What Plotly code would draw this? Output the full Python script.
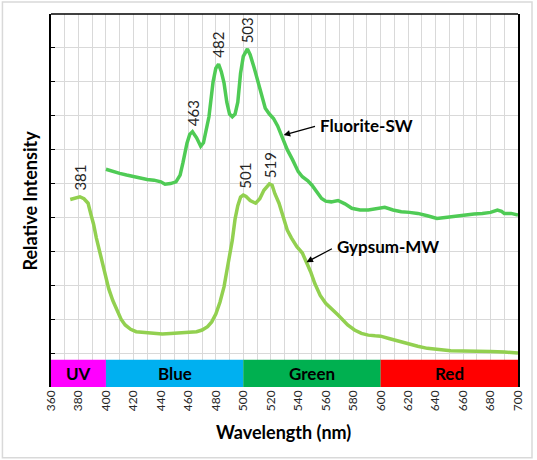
import plotly.graph_objects as go

# Emission spectra (relative units, 1 unit = 1 gridline)
fluorite_wl = [400, 405, 410, 415, 420, 425, 430, 435, 440, 443, 447, 451, 454, 456, 459, 461, 463,
               466, 469, 471, 475, 478, 480, 482, 484, 486, 488, 490, 492, 494, 496, 498, 500, 503,
               505, 508, 511, 514, 516, 519, 522, 525, 528, 532, 536, 540, 543, 547, 550, 553, 557,
               560, 564, 569, 574, 579, 585, 591, 597, 603, 609, 615, 621, 627, 634, 641, 647, 654,
               661, 668, 674, 680, 685, 688, 690, 695, 700]
fluorite_int = [5.42, 5.35, 5.30, 5.25, 5.20, 5.15, 5.12, 5.10, 5.05, 4.98, 5.00, 5.05, 5.25, 5.60,
                6.19, 6.45, 6.53, 6.35, 6.10, 6.20, 6.97, 8.00, 8.40, 8.52, 8.30, 7.96, 7.40, 7.05,
                6.97, 7.05, 7.40, 8.25, 8.75, 8.97, 8.80, 8.40, 7.96, 7.50, 7.22, 7.05, 6.92, 6.70,
                6.40, 6.00, 5.69, 5.35, 5.20, 5.08, 4.95, 4.80, 4.56, 4.48, 4.46, 4.50, 4.40, 4.27,
                4.22, 4.22, 4.25, 4.30, 4.22, 4.17, 4.15, 4.12, 4.05, 3.97, 4.00, 4.04, 4.06, 4.10,
                4.12, 4.15, 4.22, 4.18, 4.12, 4.12, 4.07]

gypsum_wl = [374, 378, 381, 384, 387, 389, 391, 393, 396, 399, 402, 405, 408, 411, 414, 418, 422,
             428, 434, 441, 447, 454, 461, 466, 470, 474, 477, 480, 483, 486, 489, 492, 494, 496,
             498, 500, 502, 505, 509, 512, 515, 519, 521, 523, 526, 529, 532, 535, 539, 543, 546,
             549, 552, 556, 560, 564, 569, 576, 581, 586, 591, 596, 600, 606, 612, 620, 627, 634,
             642, 651, 660, 670, 680, 690, 700]
gypsum_int = [4.53, 4.58, 4.61, 4.55, 4.42, 4.10, 3.80, 3.40, 2.90, 2.35, 1.90, 1.55, 1.25, 1.00,
              0.83, 0.70, 0.63, 0.60, 0.58, 0.56, 0.58, 0.60, 0.61, 0.63, 0.68, 0.78, 0.92, 1.15,
              1.50, 1.96, 2.65, 3.33, 3.95, 4.35, 4.60, 4.66, 4.62, 4.50, 4.42, 4.55, 4.80, 4.99,
              4.95, 4.70, 4.42, 4.00, 3.63, 3.40, 3.14, 2.95, 2.69, 2.40, 2.06, 1.70, 1.47, 1.30,
              1.12, 0.83, 0.68, 0.58, 0.53, 0.51, 0.50, 0.43, 0.36, 0.29, 0.20, 0.14, 0.10, 0.07,
              0.06, 0.06, 0.05, 0.03, 0.00]

# peak labels
fluorite_peaks = [463, 482, 503]
gypsum_peaks = [381, 501, 519]

# colour bands along the bottom
band_names = ['UV', 'Blue', 'Green', 'Red']
band_start = [360, 400, 500, 600]
band_end = [400, 500, 600, 700]
band_colors = ['#FF00FF', '#00B0F0', '#00B050', '#FF0000']

x_ticks = list(range(360, 701, 20))
y_grid = list(range(0, 11))

fluorite_color = '#4FCB55'
gypsum_color = '#92D050'
font_family = 'Lato, "Open Sans", sans-serif'

fig = go.Figure()
fig.add_trace(go.Scatter(x=fluorite_wl, y=fluorite_int, mode='lines',
                         line=dict(color=fluorite_color, width=3.5), name='Fluorite-SW'))
fig.add_trace(go.Scatter(x=gypsum_wl, y=gypsum_int, mode='lines',
                         line=dict(color=gypsum_color, width=3.5), name='Gypsum-MW'))

shapes = []
annotations = []
for name, x0, x1, col in zip(band_names, band_start, band_end, band_colors):
    shapes.append(dict(type='rect', xref='x', yref='y', x0=x0, x1=x1, y0=-1, y1=-0.2,
                       fillcolor=col, line=dict(width=0), layer='above'))
    annotations.append(dict(x=(x0 + x1) / 2, y=-0.6, xref='x', yref='y', text='<b>%s</b>' % name,
                            showarrow=False, font=dict(size=17, color='#000000')))

# top border of the plot area
shapes.append(dict(type='line', xref='paper', yref='paper', x0=0, x1=1, y0=1, y1=1,
                   line=dict(color='#000000', width=1.5)))
# light frame round the whole picture
shapes.append(dict(type='rect', xref='paper', yref='paper', x0=-0.104, x1=1.030, y0=-0.190, y1=1.032,
                   line=dict(color='#D9D9D9', width=1.5)))

def peak_value(wl, vals, p):
    return vals[min(range(len(wl)), key=lambda i: abs(wl[i] - p))]

for wl, vals, peaks in [(fluorite_wl, fluorite_int, fluorite_peaks), (gypsum_wl, gypsum_int, gypsum_peaks)]:
    for p in peaks:
        annotations.append(dict(x=p, y=peak_value(wl, vals, p), xref='x', yref='y', text=str(p),
                                textangle=-90, showarrow=False, yanchor='bottom', yshift=4,
                                font=dict(size=15, color='#262626')))

# series labels with arrows
annotations += [
    dict(x=529.4, y=6.43, ax=553.3, ay=6.70, xref='x', yref='y', axref='x', ayref='y', text='',
         showarrow=True, arrowhead=2, arrowsize=1, arrowwidth=1.3, arrowcolor='#000000'),
    dict(x=554.7, y=6.70, xref='x', yref='y', text='<b>Fluorite-SW</b>', showarrow=False,
         xanchor='left', font=dict(size=17, color='#000000')),
    dict(x=546.0, y=2.68, ax=565.6, ay=3.10, xref='x', yref='y', axref='x', ayref='y', text='',
         showarrow=True, arrowhead=2, arrowsize=1, arrowwidth=1.3, arrowcolor='#000000'),
    dict(x=567.0, y=3.13, xref='x', yref='y', text='<b>Gypsum-MW</b>', showarrow=False,
         xanchor='left', font=dict(size=17, color='#000000')),
    # axis titles
    dict(x=0.498, y=-0.12, xref='paper', yref='paper', text='<b>Wavelength (nm)</b>', showarrow=False,
         xanchor='center', yanchor='middle', font=dict(size=18, color='#000000')),
    dict(x=-0.045, y=0.5, xref='paper', yref='paper', text='<b>Relative Intensity</b>', showarrow=False,
         xanchor='center', yanchor='middle', textangle=-90, font=dict(size=18, color='#000000')),
]

fig.update_layout(
    width=537, height=460,
    margin=dict(l=51, r=16, t=14, b=73),
    plot_bgcolor='#FFFFFF', paper_bgcolor='#FFFFFF',
    font=dict(family=font_family, color='#262626'),
    showlegend=False,
    shapes=shapes,
    annotations=annotations,
    xaxis=dict(range=[360, 700], tickvals=x_ticks, tickangle=-90, tickfont=dict(size=12, color='#262626'),
               showgrid=True, gridcolor='#D9D9D9', gridwidth=1, zeroline=False, showline=False,
               ticks='', minor=dict(dtick=10, tick0=360, showgrid=True, gridcolor='#D9D9D9', gridwidth=1),
               fixedrange=True),
    yaxis=dict(range=[-1, 10], tickvals=y_grid, showticklabels=False, showgrid=True, gridcolor='#D9D9D9',
               gridwidth=1, zeroline=False, showline=True, linecolor='#000000', linewidth=1.5, mirror=True,
               ticks='inside', ticklen=4, tickcolor='#000000', fixedrange=True),
)

# the page's default body margin would shift the chart by 8px
fig.write_html('out.html', config={'displayModeBar': False},
               post_script="document.body.style.margin='0';")
